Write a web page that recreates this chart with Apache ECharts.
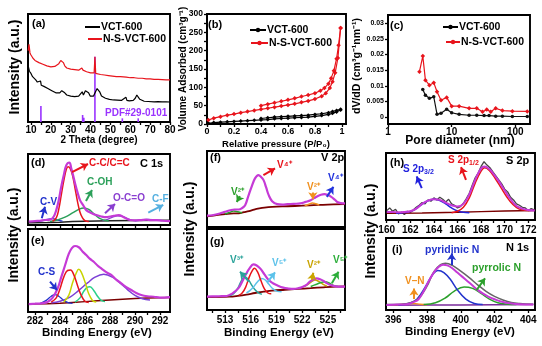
<!DOCTYPE html>
<html><head><meta charset="utf-8">
<script src="https://cdn.jsdelivr.net/npm/echarts@6/dist/echarts.min.js"></script>
<style>html,body{margin:0;padding:0;background:#fff}#c{width:542px;height:346px}</style>
</head><body><div id="c"></div>
<script>
// ---------- (a) XRD ----------
const xrdTickLabels = [10,20,30,40,50,60,70,80];
const xrdBlack = [[8.6,52],[9.2,47],[10,45],[10.8,42],[11.6,41],[12.4,39],[13.2,37],[14,36],[14.8,38],[15.2,34],[15.8,34],[16.5,33],[17.5,32],[18.5,31],[19.5,30],[20.5,29],[21.5,28],[22.5,27],[23.5,27],[24.5,27],[25.5,29],[26.3,29.6],[27,27],[28,25],[29,24.5],[30,24],[31,24],[32,23.5],[33,23],[34,24],[35,25],[35.8,28],[36.4,25],[37.4,29],[38.3,30],[39,27],[39.8,24],[40.5,23],[41.5,24],[42.5,28],[43.3,31],[43.9,32],[44.6,28],[45.5,24],[46.4,23],[47.5,22],[48.5,21],[49.5,21],[50.5,20.5],[51.5,20.4],[52.5,20.6],[53.5,20.2],[54.5,20],[55.5,20],[56.5,20.5],[57.8,23],[58.3,20],[59.5,19.6],[60.5,19.5],[61.5,20],[62.5,22],[63.3,25],[64,25],[64.8,21],[65.8,19.4],[67,19.2],[68,19.5],[69,19],[70,18.8],[72,18.6],[74,18.8],[75,19],[76,18.6],[78,18.6],[80,18.5]];
const xrdRed = [[8.6,66],[9,72],[9.5,64],[10,62],[11,59],[12,57],[13,56],[14,55],[15,54],[16,53.5],[17,52.5],[18,52],[19,51.5],[20,51],[21,51],[22,51.5],[23,52],[24,54],[25,57],[25.6,58],[26.3,55],[27,52],[28,50],[29,49.5],[30,49],[31,49],[32,48.5],[33,48],[34,48],[35,49],[35.6,50],[36.2,48],[37,47],[38,46.5],[39,46],[40,45.5],[41,45],[41.8,45.5],[42.2,60.5],[42.6,45],[43.5,44.5],[45,44],[47,43.5],[49,43],[51,42.5],[53,42],[55,42],[56,41.5],[58,41.5],[60,41],[62,41],[63,41.5],[64,40.5],[66,40.5],[68,40],[70,40],[72,39.5],[74,39.5],[76,39.3],[78,39],[80,39]];
const pdfSticks = [[15,14.8],[36.0,6.5],[36.6,4],[42.2,60.5],[56,3.4],[64,3.4]];

// ---------- (b) isotherms ----------
const pressureLabels = [0,0.2,0.4,0.6,0.8,1];
const volumeLabels = [0,50,100,150,200,250,300];
const bBlackAds = [[0.01,2],[0.05,4],[0.1,5],[0.15,6],[0.2,7],[0.25,8],[0.3,9],[0.35,10],[0.4,11],[0.45,12],[0.5,14],[0.55,15],[0.6,16],[0.65,17],[0.7,18],[0.75,19],[0.8,21],[0.85,23],[0.9,26],[0.93,29],[0.96,33],[0.99,38]];
const bBlackDes = [[0.99,40],[0.96,37],[0.93,34],[0.9,31],[0.85,28],[0.8,26],[0.75,24],[0.7,23],[0.65,22],[0.6,21],[0.55,20],[0.5,19],[0.45,17],[0.4,15]];
const bRedAds = [[0.01,11],[0.05,16],[0.1,20],[0.15,24],[0.2,27],[0.25,31],[0.3,34],[0.35,37],[0.4,40],[0.45,43],[0.5,46],[0.55,49],[0.6,52],[0.65,55],[0.7,59],[0.75,63],[0.8,68],[0.85,76],[0.88,84],[0.91,98],[0.93,115],[0.95,140],[0.97,180],[0.99,262]];
const bRedDes = [[0.99,262],[0.975,215],[0.96,178],[0.94,145],[0.92,125],[0.9,110],[0.87,98],[0.84,91],[0.8,84],[0.75,79],[0.7,75],[0.65,70],[0.6,66],[0.55,62],[0.5,58],[0.45,54],[0.4,50]];

// ---------- (c) pore size ----------
const dvLabels = [0,0.005,0.01,0.015,0.02,0.025,0.03];
const cBlack = [[3.52,0.0088],[3.87,0.0070],[4.47,0.0060],[5.23,0.0065],[5.89,0.0009],[6.8,0.0012],[8.35,0.0025],[10,0.0014],[13.1,0.0009],[18.8,0.0006],[24.8,0.0006],[32.3,0.0005],[38.7,0.0005],[49.2,0.0003],[62.6,0.0003],[89.8,0.0002],[154,0.0002]];
const cRed = [[3.12,0.0145],[3.52,0.0195],[3.87,0.0118],[4.47,0.0102],[5.23,0.011],[5.89,0.0081],[6.8,0.0054],[8.35,0.0063],[10,0.0035],[13.1,0.0035],[18.8,0.0028],[24.8,0.0028],[30.5,0.0017],[35.6,0.0024],[41.1,0.0017],[49.2,0.0028],[62.6,0.0021],[89.8,0.0019],[154,0.0018]];

// ---------- (d)(e) C 1s ----------
const c1sLabels = [282,284,286,288,290,292];
const c1sTicks = [282,283,284,285,286,287,288,289,290,291,292];
const dEnv = [[281.5,4.7],[282,5.5],[282.4,6],[282.8,7],[283.2,7.5],[283.5,12],[283.7,21],[283.9,35],[284.1,54],[284.3,70],[284.5,84],[284.75,88],[284.9,80],[285.05,70],[285.2,59],[285.4,46],[285.6,35],[285.85,28],[286.1,21],[286.5,17],[286.9,14],[287.3,12],[287.7,11],[288,12],[288.3,13],[288.7,14],[289.1,11],[289.6,7],[290,6.5],[290.5,7],[290.9,7.5],[291.3,7],[291.7,7],[292.2,6],[292.8,5.5]];
const dCC = [[283.4,5],[283.7,10],[283.9,22],[284.1,42],[284.3,62],[284.5,78],[284.65,82],[284.8,80],[285,70],[285.2,52],[285.4,33],[285.6,18],[285.8,10],[286,6],[286.3,5]];
const dCOH = [[283.2,5],[283.8,7],[284.4,11],[285,17],[285.5,22],[285.9,24],[286.3,22],[286.7,16],[287.1,10],[287.5,7],[287.9,5.5]];
const dOCO = [[287.4,6],[287.8,8],[288.2,11],[288.6,13],[289,12],[289.4,9],[289.8,6.5],[290.1,6]];
const dCV = [[282,5],[282.5,6],[283,8],[283.4,9],[283.8,7],[284.2,5.5]];
const dCF = [[290,6],[290.5,7],[291,8],[291.5,7.5],[292,6.5],[292.5,6]];
const dBase = [[281.5,3],[283,3.5],[284,4],[285,4.8],[286,5.3],[288,6],[290,6.3],[292.8,6.8]];
const eEnv = [[281.5,9.6],[282,10],[282.5,10.5],[283,12],[283.4,17],[283.8,28],[284.1,42],[284.4,56],[284.7,70],[284.95,77],[285.2,79.5],[285.5,78],[285.8,73],[286.1,68.7],[286.4,64],[286.7,60.6],[287,56],[287.3,52.6],[287.7,48],[288.1,44.6],[288.5,39],[288.9,34.5],[289.3,30],[289.7,26.5],[290.1,23],[290.5,20.5],[291,19],[291.5,18.4],[292,17.3],[292.8,18]];
const eCC = [[283.3,12],[283.7,17],[284,28],[284.3,42],[284.6,50],[284.85,50.6],[285.1,45],[285.4,32],[285.7,20],[286,13],[286.3,11.5]];
const eY = [[284.3,12],[284.7,20],[285,35],[285.3,47],[285.5,51.4],[285.7,48],[286,36],[286.3,22],[286.6,14],[286.9,12]];
const eG = [[285.2,12],[285.6,17],[285.9,25],[286.2,30],[286.4,30.5],[286.7,26],[287,19],[287.3,14],[287.6,12.5]];
const eP = [[283.3,11],[284,13],[284.8,18],[285.5,26],[286.2,35],[286.8,42],[287.5,45.4],[288.2,42],[288.8,35],[289.4,27],[290,20],[290.6,16],[291.2,14.5]];
const eCS = [[282.4,10],[282.9,14],[283.3,19],[283.6,21],[283.9,19],[284.3,14],[284.7,11],[285,10.5]];
const eBase = [[281.5,9.5],[283,9.8],[284,10.5],[285,11.5],[286,12.5],[287,13.5],[288,14.5],[289,15.5],[290,16.2],[291,16.8],[292.8,17.5]];

// ---------- (f)(g) V 2p ----------
const v2pLabels = [513,516,519,522,525];
const v2pTicks = [511.5,513,514.5,516,517.5,519,520.5,522,523.5,525,526.5];
const fEnv = [[510.9,15],[511.5,15.5],[512.4,17.7],[513,20],[513.6,22],[514.1,23],[514.6,23],[515,25],[515.35,28.7],[515.7,40],[516.1,52.8],[516.5,64],[516.9,68.3],[517.2,66],[517.5,61.7],[517.8,52],[518.1,41.9],[518.5,34],[519.1,30],[519.7,29.5],[520.3,30],[521,30.5],[521.8,31],[522.4,33],[523,35.3],[523.4,38],[523.8,40.6],[524.2,42.5],[524.6,43.2],[525,42],[525.4,39.6],[525.8,36],[526.1,33],[526.5,31.5],[527,31]];
const fBase = [[510.9,14],[512,15.5],[513,17],[514,18],[514.6,18],[515.2,19.5],[515.8,21],[516.4,23],[517,24.5],[517.6,25.6],[518.5,26.5],[520.3,27.3],[522,28],[523.8,29],[525,29.5],[527,30]];
const fV2a = [[513,17],[513.5,19],[514,21],[514.5,20],[515,18.5]];
const fV2b = [[522.3,28],[522.8,30],[523.2,31.5],[523.6,30.5],[524,29]];
const gEnv = [[510.9,16.5],[511.5,16.8],[512.3,17],[513.2,17.3],[513.8,20],[514.55,26.7],[515,35],[515.5,45.3],[515.9,52],[516.3,56.4],[516.7,55],[517.1,51.4],[517.6,44],[518.1,37],[518.6,33],[519,30.9],[519.8,27.6],[520.4,26.5],[521,26],[521.6,27],[522.1,28.8],[522.5,31],[522.9,35],[523.3,37.5],[523.7,39],[524.1,38],[524.5,35.8],[524.9,33],[525.3,30.9],[525.8,29.5],[526.4,28.8],[527,28.8]];
const gRed = [[514.6,18],[515,21],[515.4,28],[515.8,40],[516.2,49],[516.45,51.4],[516.8,47],[517.2,36],[517.6,26],[518,21],[518.4,20]];
const gTeal = [[513.5,17.5],[514,20],[514.5,27],[514.9,36],[515.3,41],[515.7,38],[516.1,31],[516.5,25],[516.9,21],[517.3,19.5]];
const gCyan = [[515.5,21],[515.9,24],[516.3,28],[516.8,35],[517.3,39],[517.7,37],[518.1,32],[518.6,26],[519.1,23],[519.6,22.5]];
const gOlive = [[522,28],[522.6,31],[523.1,35],[523.5,37],[523.9,35.5],[524.4,32],[524.9,29.5]];
const gGreen = [[523,29],[523.6,31.5],[524.2,34],[524.7,35],[525.2,33],[525.7,30],[526.2,29]];
const gBase = [[510.9,16],[513.5,16.5],[514.5,17.5],[515.5,19],[516.5,21],[517.5,22.6],[518.5,24],[520,25],[521.5,26],[523,27],[524.5,28],[526,28.8],[527,29]];

// ---------- (h) S 2p ----------
const s2pLabels = [160,162,164,166,168,170,172];
const s2pTicks = [160,161,162,163,164,165,166,167,168,169,170,171,172];
const hRaw = [[160,14],[160.25,18],[160.5,13],[160.75,16],[161,9],[161.25,12],[161.5,8],[161.75,13],[162,11],[162.25,15],[162.5,19],[162.75,22],[163,26],[163.25,24],[163.5,30],[163.75,28],[164,33],[164.25,30],[164.5,34],[164.75,31],[165,27],[165.25,31],[165.5,24],[165.75,22],[166,18],[166.25,20],[166.5,25],[166.75,32],[167,40],[167.25,52],[167.5,63],[167.75,70],[168,80],[168.25,87],[168.5,82],[168.75,78],[169,72],[169.25,66],[169.5,60],[169.75,54],[170,46],[170.25,42],[170.5,34],[170.75,30],[171,24],[171.25,22],[171.5,19],[171.75,18],[172,14],[172.25,17],[172.5,15]];
const hEnv = [[160,12],[160.5,12],[161,11.5],[161.5,12],[162,13],[162.5,17],[163,24],[163.5,29],[164,31],[164.5,30],[165,26],[165.5,22],[166,20],[166.5,24],[167,38],[167.5,60],[168,77],[168.3,80],[168.7,76],[169,70],[169.5,58],[170,44],[170.5,31],[171,21],[171.5,17],[172,15],[172.55,14]];
const hBlue = [[160.8,10],[161.5,11],[162.2,14],[162.8,21],[163.4,28],[164,31],[164.5,29],[165,24],[165.5,18],[166,13.5],[166.5,11.5],[167,11]];
const hRed = [[165.5,11],[166,13],[166.5,19],[167,33],[167.5,55],[168,73],[168.3,78],[168.7,74],[169.2,62],[169.7,48],[170.2,34],[170.7,23],[171.2,16.5],[171.7,14.5],[172.2,14]];
const hBase = [[160,10],[163,10.5],[166,11.5],[168,12.5],[170,13.5],[172.55,14]];

// ---------- (i) N 1s ----------
const n1sLabels = [396,398,400,402,404];
const n1sTicks = [396,397,398,399,400,401,402,403,404];
const iRaw = [[395.6,7.5],[396.5,8],[397,10],[397.5,16],[398,33],[398.4,53],[398.8,63],[399.1,65],[399.5,62],[400,54],[400.5,45],[401,35],[401.5,26],[402,19],[402.5,14],[403,10.5],[403.5,9],[404.3,8]];
const iEnv = [[395.6,7],[396.2,7.5],[396.8,8],[397.2,11],[397.5,15],[397.8,26],[398.1,40],[398.4,52],[398.7,60],[398.95,63],[399.2,62],[399.5,58],[399.8,52],[400.1,46],[400.4,40],[400.7,34],[401,28],[401.3,23],[401.6,19],[402,15],[402.5,11],[403,9],[403.5,8],[404.3,7.5]];
const iBlue = [[396.3,7],[396.9,9],[397.4,15],[397.9,32],[398.3,48],[398.65,55],[399,52],[399.4,42],[399.8,28],[400.3,15],[400.8,9],[401.3,7.5]];
const iGreen = [[397.8,7.5],[398.5,10],[399.1,17],[399.6,26],[400.2,32],[400.7,30],[401.2,23],[401.7,15],[402.2,10],[402.8,8],[403.3,7.5]];
const iOrange = [[395.8,7],[396.3,7.5],[396.8,8.5],[397.2,9],[397.6,8],[398,7.2]];
const iBase = [[395.6,6.5],[398,6.8],[400,7],[402,7.2],[404.3,7.5]];

// ================= build =================
const F = '"Liberation Sans", Arial, sans-serif';
const MAG = '#c53ad6', RED = '#e8141c', PUR = '#9a33ff', DRED = '#7a0000';
const grids = [
  {left:28, top:14, width:142, height:108},   // a
  {left:207, top:14, width:139, height:110},  // b
  {left:388, top:15, width:142, height:109},  // c
  {left:28, top:154, width:142, height:71},   // d
  {left:28, top:229, width:142, height:83},   // e
  {left:207, top:151, width:138, height:76},  // f
  {left:207, top:229, width:138, height:81},  // g
  {left:386, top:153, width:149, height:67},  // h
  {left:386, top:238, width:149, height:72}   // i
].map(g => Object.assign({show:true, borderColor:'#000', borderWidth:1.9, containLabel:false}, g));

function axis(g, type, min, max, labels, ticks, fs, margin, extra) {
  const a = {
    type: type, gridIndex: g, min: min, max: max,
    axisLine: {show:true, onZero:false, lineStyle:{color:'#000', width:1.9}},
    axisTick: {show: !!ticks, inside:false, length:3, lineStyle:{color:'#000', width:1.3}},
    axisLabel: {show: !!labels, color:'#000', fontWeight:'bold', fontSize: fs||10, fontFamily:F, margin: margin==null?3:margin},
    splitLine: {show:false}, minorTick:{show:false}, minorSplitLine:{show:false}
  };
  if (labels && labels !== true) a.axisLabel.customValues = labels;
  if (ticks && ticks !== true) a.axisTick.customValues = ticks;
  return Object.assign(a, extra||{});
}
const xAxes = [
  axis(0,'value',8.5,80,xrdTickLabels,[10,15,20,25,30,35,40,45,50,55,60,65,70,75,80],10,3),
  axis(1,'value',0,1.03,pressureLabels,[0,0.1,0.2,0.3,0.4,0.5,0.6,0.7,0.8,0.9,1],9,3),
  axis(2,'log',1,170,true,true,10,3,{logBase:10}),
  axis(3,'value',281.44,292.8,null,c1sTicks),
  axis(4,'value',281.44,292.8,c1sLabels,c1sTicks,10,4),
  axis(5,'value',510.9,527,null,v2pTicks),
  axis(6,'value',510.9,527,v2pLabels,v2pTicks,10,5),
  axis(7,'value',159.94,172.57,s2pLabels,s2pTicks,10,5),
  axis(8,'value',395.57,404.4,n1sLabels,n1sTicks,10,5)
];
const yAxes = [
  axis(0,'value',0,100,null,null),
  axis(1,'value',0,300,volumeLabels,[0,25,50,75,100,125,150,175,200,225,250,275,300],8.5,4),
  axis(2,'value',-0.0022,0.0326,dvLabels,dvLabels,7,4),
  axis(3,'value',0,100,null,null),
  axis(4,'value',0,100,null,null),
  axis(5,'value',0,100,null,null),
  axis(6,'value',0,100,null,null),
  axis(7,'value',0,100,null,null),
  axis(8,'value',0,100,null,null)
];

function ln(g, data, color, width, extra) {
  return Object.assign({type:'line', xAxisIndex:g, yAxisIndex:g, data:data, symbol:'none',
    lineStyle:{color:color, width:width||1.5}, itemStyle:{color:color}, silent:true, z:3}, extra||{});
}
function arrows(list) {
  return {silent:true, symbol:['none','arrow'], symbolSize:7, label:{show:false},
    data: list.map(a => [{coord:a[0], lineStyle:{color:a[2], width:2, type:'solid'}, itemStyle:{color:a[2]}}, {coord:a[1]}])};
}
const sm = {smooth:0.4};
const series = [
  // a
  {type:'bar', xAxisIndex:0, yAxisIndex:0, data:pdfSticks, barWidth:1.6, itemStyle:{color:PUR}, silent:true, z:2},
  ln(0, xrdBlack, '#000', 1.2),
  ln(0, xrdRed, RED, 1.2),
  // b
  ln(1, bBlackAds, '#000', 1.2, {symbol:'diamond', symbolSize:4, showSymbol:true}),
  ln(1, bBlackDes, '#000', 1.2, {symbol:'diamond', symbolSize:4, showSymbol:true}),
  ln(1, bRedAds, RED, 1.2, {symbol:'diamond', symbolSize:4.5, showSymbol:true}),
  ln(1, bRedDes, RED, 1.2, {symbol:'diamond', symbolSize:4.5, showSymbol:true}),
  // c
  ln(2, cBlack, '#111', 1.2, {symbol:'circle', symbolSize:3.5, showSymbol:true}),
  ln(2, cRed, RED, 1.2, {symbol:'diamond', symbolSize:4.5, showSymbol:true}),
  // d
  ln(3, dBase, '#222', 1.5),
  ln(3, dCV, '#2233cc', 1.3, sm),
  ln(3, dCF, '#55b0e0', 1.3, sm),
  ln(3, dOCO, '#8a3fd0', 1.3, sm),
  ln(3, dCOH, '#2ca05a', 1.5, sm),
  ln(3, dCC, RED, 1.5, sm),
  ln(3, dEnv, MAG, 2.2, Object.assign({markLine: arrows([
    [[284.96,74.6],[286.24,85.9],RED],
    [[286.08,33.8],[286.56,49.3],'#2ca05a'],
    [[282.54,9.4],[282.8,25.8],'#2233cc'],
    [[287.6,16.5],[288.4,29.6],'#8a3fd0'],
    [[291.06,17.3],[292.26,28.2],'#55b0e0']
  ])}, sm)),
  // e
  ln(4, eBase, DRED, 1.5),
  ln(4, eCS, '#2233cc', 1.3, sm),
  ln(4, eP, '#7b3fd6', 1.5, sm),
  ln(4, eG, '#2ad08a', 1.5, sm),
  ln(4, eY, '#c8d400', 1.5, sm),
  ln(4, eCC, RED, 1.5, sm),
  ln(4, eEnv, MAG, 2.2, Object.assign({markLine: arrows([
    [[283.2,36.5],[283.76,26.5],'#2233cc']
  ])}, sm)),
  // f
  ln(5, fBase, DRED, 1.8, sm),
  ln(5, fV2a, '#2ca02c', 1.5, sm),
  ln(5, fV2b, '#f0901e', 1.5, sm),
  ln(5, fEnv, MAG, 2.2, Object.assign({markLine: arrows([
    [[517.48,68.3],[518.84,77.1],RED],
    [[514.75,40.5],[514.37,33],'#2ca02c'],
    [[523.25,45.3],[523.25,36.6],'#f0901e'],
    [[524.88,39.6],[525.65,52.8],'#2233dd']
  ])}, sm)),
  // g
  ln(6, gBase, DRED, 1.8, sm),
  ln(6, gTeal, '#2aa39a', 1.5, sm),
  ln(6, gCyan, '#5cc2ea', 1.5, sm),
  ln(6, gOlive, '#c9a400', 1.5, sm),
  ln(6, gGreen, '#2cae3a', 1.5, sm),
  ln(6, gRed, RED, 1.5, sm),
  ln(6, gEnv, MAG, 2.2, Object.assign({markLine: arrows([
    [[515.79,35],[514.75,47.3],'#2aa39a'],
    [[517.94,34.2],[518.84,46.5],'#5cc2ea'],
    [[523.13,37],[523.3,46],'#c9a400'],
    [[525.47,33],[526.24,47.3],'#2cae3a']
  ])}, sm)),
  // h
  ln(7, hRaw, '#444', 1.3),
  ln(7, hBase, DRED, 1.5),
  ln(7, hBlue, '#2222dd', 1.5, sm),
  ln(7, hRed, RED, 1.5, sm),
  ln(7, hEnv, MAG, 2, Object.assign({markLine: arrows([
    [[162.97,47.5],[162.54,65],'#2222dd'],
    [[166.72,60],[166.3,79],RED]
  ])}, sm)),
  // i
  ln(8, iBase, '#7a2a9a', 1.5),
  ln(8, iOrange, '#f0901e', 1.3, sm),
  ln(8, iGreen, '#2ca02c', 1.5, sm),
  ln(8, iBlue, '#2233cc', 1.5, sm),
  ln(8, iRaw, '#666', 1.5, sm),
  ln(8, iEnv, MAG, 2, Object.assign({markLine: arrows([
    [[399.46,62.5],[399.46,78.7],'#2233cc'],
    [[400.94,27.8],[401.44,44],'#2ca02c'],
    [[397.23,15.3],[397.23,30],'#f0901e']
  ])}, sm))
];

function T(text, x, y, color, size, align) {
  return {type:'text', x:x, y:y, z:100, silent:true,
    style:{text:text, fill:color||'#000', fontSize:size||10, fontWeight:'bold', fontFamily:F, align:align||'left', verticalAlign:'middle'}};
}
function V(text, x, y, size) {
  return {type:'text', x:x, y:y, z:100, rotation:Math.PI/2, silent:true,
    style:{text:text, fill:'#000', fontSize:size||14, fontWeight:'bold', fontFamily:F, align:'center', verticalAlign:'middle'}};
}
function L(x1, x2, y, color, marker) {
  const els = [{type:'line', z:100, silent:true, shape:{x1:x1,y1:y,x2:x2,y2:y}, style:{stroke:color, lineWidth:2}}];
  if (marker) els.push({type:'circle', z:101, silent:true, shape:{cx:(x1+x2)/2, cy:y, r:2.2}, style:{fill:color}});
  return els;
}
function SUB(main, sub, x, y, color) {
  return {type:'text', x:x, y:y, z:100, silent:true,
    style:{text:'{a|' + main + '}{b|' + sub + '}', fill:color, fontFamily:F, fontWeight:'bold', align:'left', verticalAlign:'middle',
      rich:{a:{fontSize:10, fontWeight:'bold', fill:color, lineHeight:14, verticalAlign:'middle'},
            b:{fontSize:7, fontWeight:'bold', fill:color, lineHeight:14, verticalAlign:'bottom'}}}};
}

const graphic = [].concat(
  // axis titles
  V('Intensity (a.u.)', 15, 67, 14),
  V('Intensity (a.u.)', 14, 235, 14),
  V('Intensity (a.u.)', 190, 229, 14),
  V('Intensity (a.u.)', 371, 231, 14),
  V('Volume Adsorbed (cm³g⁻¹)', 183, 69, 10),
  V('dV/dD (cm³g⁻¹nm⁻¹)', 357, 66, 10.5),
  T('2 Theta (degree)', 99, 140, '#000', 10, 'center'),
  T('Relative pressure (P/P₀)', 276, 144, '#000', 9.5, 'center'),
  T('Pore diameter (nm)', 460, 141, '#000', 12, 'center'),
  T('Binding Energy (eV)', 97, 333, '#000', 11.5, 'center'),
  T('Binding Energy (eV)', 279, 333, '#000', 11.5, 'center'),
  T('Binding Energy (eV)', 460, 332, '#000', 11.5, 'center'),
  // panel (a)
  T('(a)', 32, 24, '#000', 11),
  L(85, 100, 27, '#000'), T('VCT-600', 101, 27, '#000', 10.5),
  L(88, 102, 39, RED), T('N-S-VCT-600', 103, 39, '#000', 10.5),
  T('PDF#29-0101', 105, 113, PUR, 10),
  // panel (b)
  T('(b)', 208, 25, '#000', 11),
  L(250, 266, 30, '#000', true), T('VCT-600', 267, 30, '#000', 10.5),
  L(251, 268, 43, RED, true), T('N-S-VCT-600', 269, 43, '#000', 10.5),
  // panel (c)
  T('(c)', 390, 26, '#000', 11),
  L(443, 458, 27, '#000', true), T('VCT-600', 459, 27, '#000', 10.5),
  L(446, 460, 42, RED, true), T('N-S-VCT-600', 461, 42, '#000', 10.5),
  // panel (d)
  T('(d)', 31, 163, '#000', 11),
  T('C-C/C=C', 89, 163, RED, 10),
  T('C 1s', 140, 164, '#000', 11),
  T('C-OH', 87, 182, '#2ca05a', 10),
  T('C-V', 40, 202, '#2233cc', 10),
  T('O-C=O', 113, 198, '#8a3fd0', 10),
  T('C-F', 152, 199, '#55b0e0', 10),
  // panel (e)
  T('(e)', 31, 241, '#000', 11),
  T('C-S', 38, 272, '#2233cc', 10),
  // panel (f)
  T('(f)', 210, 158, '#000', 11),
  T('V 2p', 321, 158, '#000', 11),
  T('V⁴⁺', 277, 165, RED, 10),
  T('V²⁺', 231, 192, '#2ca02c', 10),
  T('V²⁺', 307, 187, '#f0901e', 10),
  T('V⁴⁺', 328, 178, '#2233dd', 10),
  // panel (g)
  T('(g)', 210, 242, '#000', 11),
  T('V³⁺', 230, 260, '#2aa39a', 10),
  T('V⁵⁺', 272, 263, '#5cc2ea', 10),
  T('V²⁺', 307, 265, '#c9a400', 10),
  T('V⁵⁺', 333, 260, '#2cae3a', 10),
  // panel (h)
  T('(h)', 390, 163, '#000', 11),
  SUB('S 2p', '3/2', 403, 169, '#2222dd'),
  SUB('S 2p', '1/2', 448, 160, RED),
  T('S 2p', 506, 161, '#000', 11),
  // panel (i)
  T('(i)', 392, 250, '#000', 11),
  T('pyridinic N', 425, 250, '#2233cc', 10.5),
  T('N 1s', 506, 248, '#000', 11),
  T('pyrrolic N', 472, 268, '#2ca02c', 10.5),
  T('V–N', 405, 281, '#f0901e', 10)
);

const chart = echarts.init(document.getElementById('c'), null, {renderer:'canvas'});
chart.setOption({
  animation:false, backgroundColor:'#fff',
  grid: grids, xAxis: xAxes, yAxis: yAxes, series: series, graphic: graphic
});
</script></body></html>
